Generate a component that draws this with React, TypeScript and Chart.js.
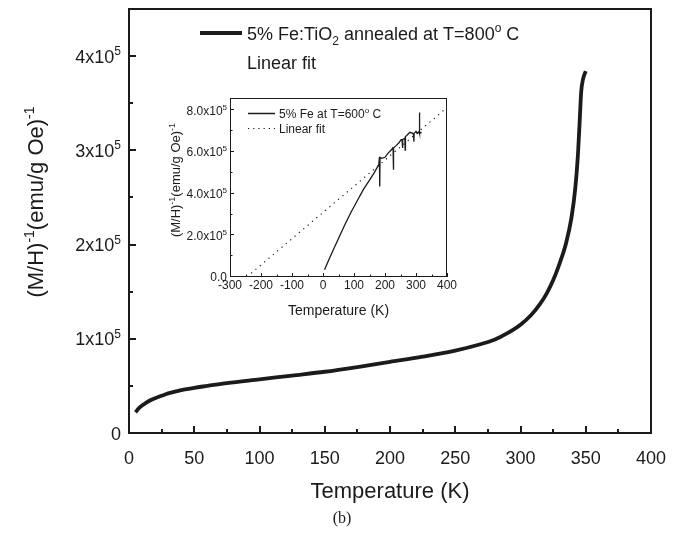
import React, { useEffect, useRef } from 'react';
import { Chart, registerables } from 'chart.js';

Chart.register(...registerables);

// ---------- main chart data (5% Fe:TiO2 annealed at 800 C) ----------
const mainTemps = [5, 8, 12, 16, 20, 25, 30, 40, 50, 60, 75, 100, 125, 150, 175, 200, 225, 250, 270, 280, 290, 300, 308, 315, 320, 325, 330, 335, 339, 342, 344, 345.5, 346.5, 348, 350];
const mainInvChi = [0.22e5, 0.27e5, 0.31e5, 0.345e5, 0.37e5, 0.395e5, 0.42e5, 0.455e5, 0.48e5, 0.5e5, 0.53e5, 0.57e5, 0.61e5, 0.65e5, 0.7e5, 0.755e5, 0.81e5, 0.875e5, 0.945e5, 0.99e5, 1.06e5, 1.15e5, 1.25e5, 1.37e5, 1.48e5, 1.62e5, 1.8e5, 2.02e5, 2.28e5, 2.6e5, 2.95e5, 3.35e5, 3.62e5, 3.76e5, 3.84e5];

const mainXTicks = [0, 50, 100, 150, 200, 250, 300, 350, 400];
const mainXMinor = [25, 75, 125, 175, 225, 275, 325, 375];
const mainYTicks = [0, 1e5, 2e5, 3e5, 4e5];
const mainYMinor = [0.5e5, 1.5e5, 2.5e5, 3.5e5];
const mainYLabels = [['0', ''], ['1x10', '5'], ['2x10', '5'], ['3x10', '5'], ['4x10', '5']];

// ---------- inset data (5% Fe at T=600 C) ----------
const insetTemps = [5, 15, 30, 50, 70, 90, 110, 130, 150, 165, 180, 182, 183, 184, 190, 200, 210, 220, 225, 226, 227, 228, 235, 245, 252, 255, 256, 258, 262, 264, 265, 266, 270, 280, 290, 292, 293, 294, 300, 305, 310, 311, 312, 318];
const insetInvChi = [0.35e5, 0.7e5, 1.2e5, 1.85e5, 2.5e5, 3.1e5, 3.65e5, 4.2e5, 4.65e5, 5.0e5, 5.4e5, 5.75e5, 4.35e5, 5.75e5, 5.7e5, 5.75e5, 5.95e5, 6.1e5, 6.2e5, 6.15e5, 5.15e5, 6.2e5, 6.3e5, 6.45e5, 6.6e5, 6.6e5, 6.2e5, 6.6e5, 6.65e5, 6.7e5, 6.1e5, 6.75e5, 6.8e5, 6.95e5, 6.9e5, 6.85e5, 6.5e5, 6.9e5, 7.0e5, 6.9e5, 7.0e5, 7.9e5, 6.9e5, 6.95e5];
const fitTemps = [-246, 400];
const fitInvChi = [0, 8.14e5];

const insetXTicks = [-300, -200, -100, 0, 100, 200, 300, 400];
const insetXMinor = [-250, -150, -50, 50, 150, 250, 350];
const insetYTicks = [0, 2e5, 4e5, 6e5, 8e5];
const insetYMinor = [1e5, 3e5, 5e5, 7e5];
const insetYLabels = [['0.0', ''], ['2.0x10', '5'], ['4.0x10', '5'], ['6.0x10', '5'], ['8.0x10', '5']];

const INK = '#1b1b1b';
const FONT = "'Liberation Sans', Arial, sans-serif";

type Seg = [string, number, number]; // text, font size, vertical offset

function drawRich(ctx: CanvasRenderingContext2D, segs: Seg[], x: number, y: number, align: 'left' | 'center' | 'right') {
  let total = 0;
  const widths: number[] = [];
  for (const [t, s] of segs) {
    ctx.font = `${s}px ${FONT}`;
    const w = ctx.measureText(t).width;
    widths.push(w);
    total += w;
  }
  let cx = align === 'left' ? x : align === 'center' ? x - total / 2 : x - total;
  ctx.textAlign = 'left';
  ctx.textBaseline = 'alphabetic';
  segs.forEach(([t, s, dy], i) => {
    ctx.font = `${s}px ${FONT}`;
    ctx.fillText(t, cx, y + dy);
    cx += widths[i];
  });
}

const mainDecor = {
  id: 'mainDecor',
  afterDraw(chart: any) {
    const { ctx, chartArea: a } = chart;
    const xs = chart.scales.x;
    const ys = chart.scales.y;
    ctx.save();
    ctx.strokeStyle = INK;
    ctx.fillStyle = INK;
    ctx.lineWidth = 2;
    ctx.strokeRect(a.left, a.top, a.right - a.left, a.bottom - a.top);
    ctx.beginPath();
    for (const v of mainXTicks) {
      const px = Math.round(xs.getPixelForValue(v));
      ctx.moveTo(px, a.bottom); ctx.lineTo(px, a.bottom - 7);
    }
    for (const v of mainXMinor) {
      const px = Math.round(xs.getPixelForValue(v));
      ctx.moveTo(px, a.bottom); ctx.lineTo(px, a.bottom - 4);
    }
    for (const v of mainYTicks) {
      const py = Math.round(ys.getPixelForValue(v));
      ctx.moveTo(a.left, py); ctx.lineTo(a.left + 7, py);
    }
    for (const v of mainYMinor) {
      const py = Math.round(ys.getPixelForValue(v));
      ctx.moveTo(a.left, py); ctx.lineTo(a.left + 4, py);
    }
    ctx.stroke();

    // tick labels
    mainXTicks.forEach((v) => {
      drawRich(ctx, [[String(v), 18, 0]], xs.getPixelForValue(v), 464, 'center');
    });
    mainYTicks.forEach((v, i) => {
      const py = ys.getPixelForValue(v);
      const [m, e] = mainYLabels[i];
      const segs: Seg[] = [[m, 18, 0]];
      if (e) segs.push([e, 12, -7.5]);
      drawRich(ctx, segs, 121, py + 6.5, 'right');
    });

    // axis titles
    drawRich(ctx, [['Temperature (K)', 22, 0]], (a.left + a.right) / 2, 498, 'center');
    ctx.save();
    ctx.translate(43, 202);
    ctx.rotate(-Math.PI / 2);
    drawRich(ctx, [['(M/H)', 22, 0], ['-1', 14, -9], ['(emu/g Oe)', 22, 0], ['-1', 14, -9]], 0, 0, 'center');
    ctx.restore();

    // legend
    ctx.lineWidth = 4;
    ctx.beginPath();
    ctx.moveTo(200, 33); ctx.lineTo(242, 33);
    ctx.stroke();
    drawRich(ctx, [['5% Fe:TiO', 18, 0], ['2', 12, 5], [' annealed at T=800', 18, 0], ['o', 12, -8], [' C', 18, 0]], 247, 39.5, 'left');
    drawRich(ctx, [['Linear fit', 18, 0]], 247, 69, 'left');

    // caption
    ctx.font = "16px 'Liberation Serif', 'Times New Roman', serif";
    ctx.textAlign = 'center';
    ctx.textBaseline = 'alphabetic';
    ctx.fillText('(b)', 342, 523);
    ctx.restore();
  },
};

const OX = 150;
const OY = 85;

const insetDecor = {
  id: 'insetDecor',
  afterDraw(chart: any) {
    const { ctx, chartArea: a } = chart;
    const xs = chart.scales.x;
    const ys = chart.scales.y;
    ctx.save();
    ctx.strokeStyle = INK;
    ctx.fillStyle = INK;
    ctx.lineWidth = 1;
    ctx.strokeRect(a.left + 0.5, a.top + 0.5, a.right - a.left - 1, a.bottom - a.top - 1);
    ctx.beginPath();
    for (const v of insetXTicks) {
      const px = Math.round(xs.getPixelForValue(v)) + 0.5;
      ctx.moveTo(px, a.bottom); ctx.lineTo(px, a.bottom - 4);
    }
    for (const v of insetXMinor) {
      const px = Math.round(xs.getPixelForValue(v)) + 0.5;
      ctx.moveTo(px, a.bottom); ctx.lineTo(px, a.bottom - 2.5);
    }
    for (const v of insetYTicks) {
      const py = Math.round(ys.getPixelForValue(v)) - 0.5;
      ctx.moveTo(a.left, py); ctx.lineTo(a.left + 4, py);
    }
    for (const v of insetYMinor) {
      const py = Math.round(ys.getPixelForValue(v)) - 0.5;
      ctx.moveTo(a.left, py); ctx.lineTo(a.left + 2.5, py);
    }
    ctx.stroke();

    insetXTicks.forEach((v) => {
      drawRich(ctx, [[String(v), 12, 0]], xs.getPixelForValue(v), 289 - OY, 'center');
    });
    insetYTicks.forEach((v, i) => {
      const py = ys.getPixelForValue(v);
      const [m, e] = insetYLabels[i];
      const segs: Seg[] = [[m, 12, 0]];
      if (e) segs.push([e, 8, -5]);
      drawRich(ctx, segs, 227 - OX, py + 4.3, 'right');
    });

    drawRich(ctx, [['Temperature (K)', 14, 0]], (a.left + a.right) / 2, 315 - OY, 'center');
    ctx.save();
    ctx.translate(180 - OX, 180 - OY);
    ctx.rotate(-Math.PI / 2);
    drawRich(ctx, [['(M/H)', 13, 0], ['-1', 9, -5.5], ['(emu/g Oe)', 13, 0], ['-1', 9, -5.5]], 0, 0, 'center');
    ctx.restore();

    // legend
    ctx.lineWidth = 1.5;
    ctx.beginPath();
    ctx.moveTo(248 - OX, 113.5 - OY); ctx.lineTo(275 - OX, 113.5 - OY);
    ctx.stroke();
    ctx.lineWidth = 1.2;
    ctx.setLineDash([1.2, 4]);
    ctx.beginPath();
    ctx.moveTo(248 - OX, 128.5 - OY); ctx.lineTo(275 - OX, 128.5 - OY);
    ctx.stroke();
    ctx.setLineDash([]);
    drawRich(ctx, [['5% Fe at T=600', 12, 0], ['o', 8, -5], [' C', 12, 0]], 279 - OX, 117.8 - OY, 'left');
    drawRich(ctx, [['Linear fit', 12, 0]], 279 - OX, 132.8 - OY, 'left');
    ctx.restore();
  },
};

function MainChart() {
  const ref = useRef<HTMLCanvasElement | null>(null);
  useEffect(() => {
    if (!ref.current) return;
    const chart = new Chart(ref.current, {
      type: 'line',
      data: {
        datasets: [
          {
            data: mainTemps.map((t, i) => ({ x: t, y: mainInvChi[i] })),
            borderColor: INK,
            borderWidth: 3.8,
            pointRadius: 0,
            cubicInterpolationMode: 'monotone',
            fill: false,
          },
        ],
      },
      options: {
        responsive: false,
        animation: false,
        layout: { padding: { left: 129, right: 33, top: 9, bottom: 108 } },
        plugins: { legend: { display: false }, tooltip: { enabled: false } },
        scales: {
          x: { type: 'linear', min: 0, max: 400, display: false },
          y: { type: 'linear', min: 0, max: 4.5e5, display: false },
        },
      },
      plugins: [mainDecor],
    } as any);
    return () => chart.destroy();
  }, []);
  return <canvas ref={ref} width={684} height={541} style={{ position: 'absolute', left: 0, top: 0, width: 684, height: 541 }} />;
}

function InsetChart() {
  const ref = useRef<HTMLCanvasElement | null>(null);
  useEffect(() => {
    if (!ref.current) return;
    const chart = new Chart(ref.current, {
      type: 'line',
      data: {
        datasets: [
          {
            data: insetTemps.map((t, i) => ({ x: t, y: insetInvChi[i] })),
            borderColor: INK,
            borderWidth: 1.3,
            pointRadius: 0,
            tension: 0,
            fill: false,
          },
          {
            data: fitTemps.map((t, i) => ({ x: t, y: fitInvChi[i] })),
            borderColor: INK,
            borderWidth: 1.2,
            borderDash: [1.2, 4.5],
            pointRadius: 0,
            tension: 0,
            fill: false,
          },
        ],
      },
      options: {
        responsive: false,
        animation: false,
        layout: { padding: { left: 80, right: 13, top: 13, bottom: 48 } },
        plugins: { legend: { display: false }, tooltip: { enabled: false } },
        scales: {
          x: { type: 'linear', min: -300, max: 400, display: false },
          y: { type: 'linear', min: 0, max: 8.6e5, display: false },
        },
      },
      plugins: [insetDecor],
    } as any);
    return () => chart.destroy();
  }, []);
  return <canvas ref={ref} width={310} height={240} style={{ position: 'absolute', left: OX, top: OY, width: 310, height: 240 }} />;
}

export default function App() {
  return (
    <div style={{ position: 'fixed', left: 0, top: 0, width: 684, height: 541, background: '#fff', overflow: 'hidden' }}>
      <MainChart />
      <InsetChart />
    </div>
  );
}
